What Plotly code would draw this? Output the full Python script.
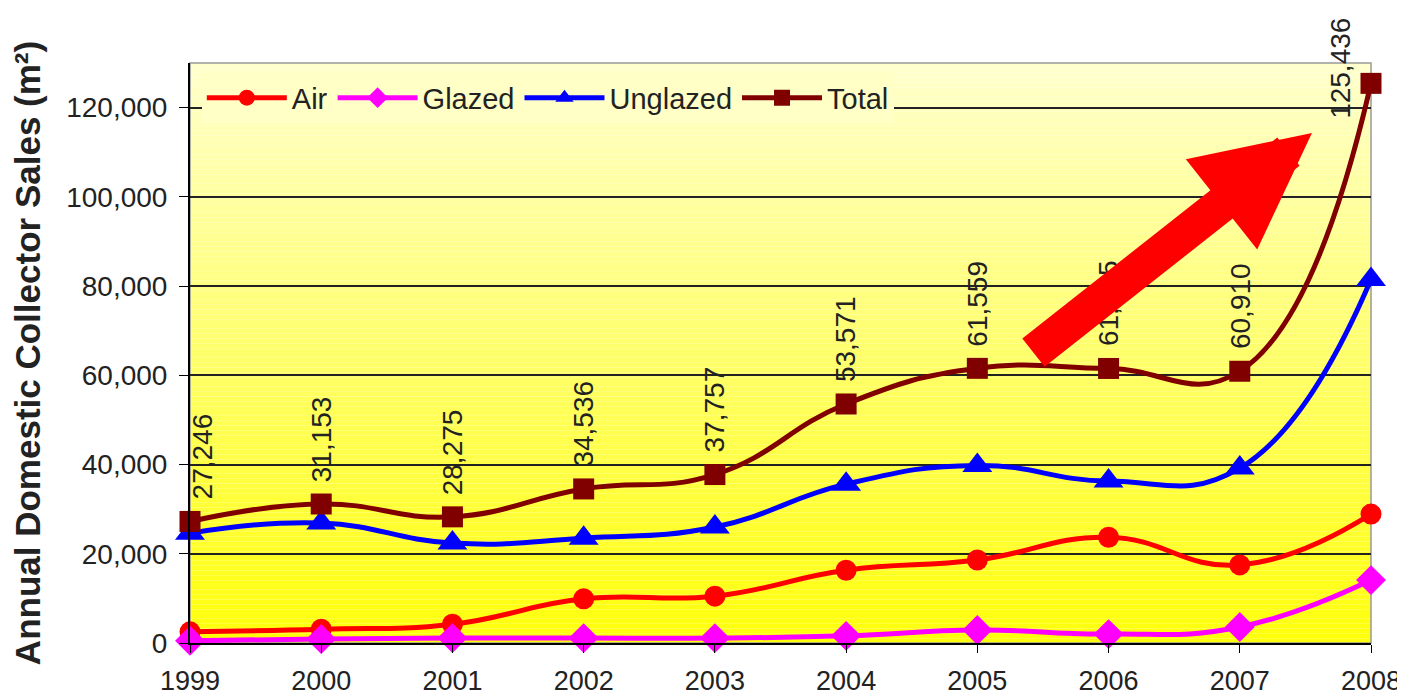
import plotly.graph_objects as go

years = [1999, 2000, 2001, 2002, 2003, 2004, 2005, 2006, 2007, 2008]
air = [2500, 3100, 4200, 9900, 10500, 16300, 18600, 23700, 17500, 28900]
glazed = [500, 900, 1100, 1100, 1100, 1600, 2900, 2000, 3600, 14100]
unglazed = [24600, 26900, 22400, 23500, 26000, 35600, 39800, 36300, 39200, 81500]
total = [27246, 31153, 28275, 34536, 37757, 53571, 61559, 61535, 60910, 125436]
total_labels = ["27,246", "31,153", "28,275", "34,536", "37,757",
                "53,571", "61,559", "61,535", "60,910", "125,436"]
y_ticks = [0, 20000, 40000, 60000, 80000, 100000, 120000]

series = [
    ("Air", air, "#FF0000", "circle", 21),
    ("Glazed", glazed, "#FF00FF", "diamond", 23),
    ("Unglazed", unglazed, "#0000FF", "triangle-up", 26),
    ("Total", total, "#800000", "square", 21),
]

fig = go.Figure()
for name, vals, col, sym, sz in series:
    fig.add_trace(go.Scatter(
        x=years, y=vals, name=name, mode="lines+markers",
        line=dict(color=col, width=5, shape="spline", smoothing=1.3),
        marker=dict(color=col, symbol=sym, size=sz, line=dict(width=0)),
        cliponaxis=False,
    ))

# vertical gradient background (light yellow top -> bright yellow bottom)
shapes = []
n = 120
for i in range(n):
    f = (i + 0.5) / n  # 0 at bottom, 1 at top
    b = int(round(10 + 195 * f))
    shapes.append(dict(type="rect", xref="paper", yref="paper",
                       x0=0, x1=1, y0=i / n, y1=(i + 1) / n,
                       line=dict(width=0), fillcolor=f"rgb(255,255,{b})",
                       layer="below"))
shapes.append(dict(type="rect", xref="paper", yref="paper", x0=0, x1=1, y0=0, y1=1,
                   line=dict(color="#999999", width=1.5), layer="below"))

annotations = []
for i, (yr, v, lab) in enumerate(zip(years, total, total_labels)):
    xs, ys = 0, 20
    if i == 0:
        xs = 12
    if i == len(years) - 1:
        xs, ys = -30, -38
    annotations.append(dict(x=yr, y=v, xref="x", yref="y", text=lab,
                            textangle=-90, showarrow=False,
                            xanchor="center", yanchor="bottom",
                            xshift=xs, yshift=ys,
                            font=dict(family="Arial, Liberation Sans", size=28, color="#222222")))

# big red trend arrow
annotations.append(dict(x=2007.55, y=114300, xref="x", yref="y",
                        ax=-284, ay=224, axref="pixel", ayref="pixel",
                        showarrow=True, arrowhead=2, arrowsize=0.64,
                        arrowwidth=36, arrowcolor="#FF0000"))

# the page has an 8px body margin, so the figure is sized to fit the window
fig.update_layout(
    width=1397, height=690,
    margin=dict(l=182, r=34, t=55, b=55, autoexpand=False),
    paper_bgcolor="white",
    plot_bgcolor="rgba(0,0,0,0)",
    font=dict(family="Arial, Liberation Sans", size=28, color="#222222"),
    shapes=shapes,
    annotations=annotations,
    showlegend=True,
    legend=dict(orientation="h", x=0.01, y=0.94, xanchor="left", yanchor="middle",
                bgcolor="#FFFFC6", borderwidth=0, itemwidth=80,
                font=dict(size=29, color="#222222"), tracegroupgap=0,
                itemsizing="trace"),
    xaxis=dict(range=[1999, 2008], tickmode="array", tickvals=years,
               ticktext=[str(y) for y in years], automargin=False,
               showgrid=False, zeroline=False, showline=True, linecolor="black",
               linewidth=2, ticks="outside", ticklen=8, tickcolor="black",
               tickfont=dict(size=27, color="#222222"), ticklabelstandoff=5),
    yaxis=dict(range=[0, 130000], tickmode="array", tickvals=y_ticks,
               tickformat=",d", showgrid=True, gridcolor="#222222", gridwidth=2,
               zeroline=False, showline=True, linecolor="black", linewidth=2,
               ticks="outside", ticklen=9, tickcolor="black", automargin=False,
               tickfont=dict(size=28, color="#222222"), ticklabelstandoff=6,
               title=dict(text="<b>Annual Domestic Collector Sales (m²)</b>",
                          font=dict(size=35, color="#222222"), standoff=22)),
)

fig.write_html("out.html")
